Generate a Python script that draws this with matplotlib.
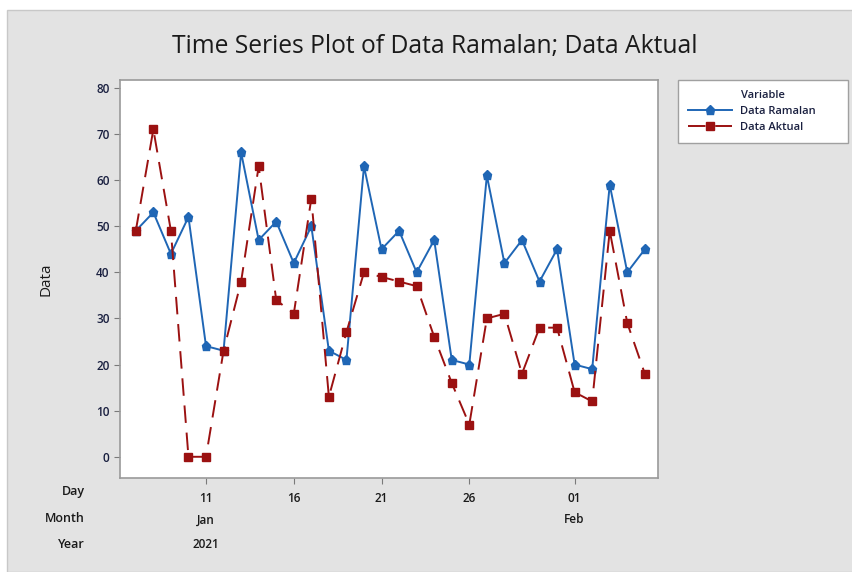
import pandas as pd
import matplotlib.pyplot as plt
from matplotlib.patches import Rectangle

# Daily values, 7 Jan - 5 Feb 2021
dates = pd.date_range('2021-01-07', '2021-02-05', freq='D')
data_ramalan = [49, 53, 44, 52, 24, 23, 66, 47, 51, 42, 50, 23, 21, 63, 45,
                49, 40, 47, 21, 20, 61, 42, 47, 38, 45, 20, 19, 59, 40, 45]
data_aktual = [49, 71, 49, 0, 0, 23, 38, 63, 34, 31, 56, 13, 27, 40, 39,
               38, 37, 26, 16, 7, 30, 31, 18, 28, 28, 14, 12, 49, 29, 18]
day_ticks = ['2021-01-11', '2021-01-16', '2021-01-21', '2021-01-26', '2021-02-01']
day_labels = ['11', '16', '21', '26', '01']
month_labels = {'2021-01-11': 'Jan', '2021-02-01': 'Feb'}
year_labels = {'2021-01-11': '2021'}

plt.rcParams['font.family'] = ['Open Sans', 'DejaVu Sans']

fig = plt.figure(figsize=(8.52, 5.72), dpi=100)
fig.patch.set_facecolor('white')
# grey panel behind the graph
fig.patches.append(Rectangle((7 / 852, 0), 1, 1 - 10 / 572, transform=fig.transFigure,
                             facecolor='#e3e3e3', edgecolor='#c8c8c8', lw=1, zorder=-10))

ax = fig.add_axes([120 / 852, 1 - 478 / 572, 538 / 852, 398 / 572])
ax.set_facecolor('white')

blue = '#1f66b5'
red = '#9b1111'
x = list(range(len(dates)))
ax.plot(x, data_ramalan, color=blue, lw=1.4, marker='p', ms=6.5, label='Data Ramalan')
ax.plot(x, data_aktual, color=red, lw=1.4, marker='s', ms=6,
        linestyle=(0, (9, 5)), label='Data Aktual')

ax.set_xlim(-0.9, len(dates) - 1 + 0.75)
ax.set_ylim(-4.6, 81.7)
ax.set_yticks(range(0, 81, 10))
ax.set_yticklabels([str(v) for v in range(0, 81, 10)], fontweight='semibold')
ax.tick_params(axis='y', colors='#7a7a7a', labelcolor='#1a2040', labelsize=8.5, length=4)

tick_pos = [list(dates).index(pd.Timestamp(d)) for d in day_ticks]
ax.set_xticks(tick_pos)
ax.set_xticklabels(day_labels, fontweight='semibold')
ax.tick_params(axis='x', colors='#7a7a7a', labelcolor='#1a1a1a', labelsize=8.5,
               length=4, pad=6)
for s in ax.spines.values():
    s.set_color('#9a9a9a')
    s.set_linewidth(1.2)

# extra rows under the day labels
trans = ax.get_xaxis_transform()
for d, lab in month_labels.items():
    ax.text(list(dates).index(pd.Timestamp(d)), -0.105, lab, transform=trans,
            ha='center', va='center', fontsize=8.5, color='#1a1a1a', fontweight='semibold')
for d, lab in year_labels.items():
    ax.text(list(dates).index(pd.Timestamp(d)), -0.168, lab, transform=trans,
            ha='center', va='center', fontsize=8.5, color='#1a1a1a', fontweight='semibold')
for lab, yy in [('Day', 492), ('Month', 519), ('Year', 544)]:
    fig.text(85 / 852, 1 - yy / 572, lab, ha='right', va='center',
             fontsize=9, color='#1a1a1a', fontweight='semibold')

ax.set_ylabel('Data', fontsize=11, color='#1a1a1a', labelpad=31)
fig.text(435 / 852, 1 - 47 / 572, 'Time Series Plot of Data Ramalan; Data Aktual',
         ha='center', va='center', fontsize=17.7, color='#1a1a1a')

leg = ax.legend(title='Variable', loc='upper left',
                bbox_to_anchor=(678 / 852, 1 - 148 / 572, 170 / 852, 68 / 572),
                mode='expand', bbox_transform=fig.transFigure, fancybox=False,
                framealpha=1, edgecolor='#a0a0a0',
                prop={'size': 8, 'weight': 'semibold'},
                title_fontproperties={'size': 8, 'weight': 'semibold'},
                handlelength=4.0, handletextpad=0.7, borderpad=0.9, labelspacing=0.45,
                borderaxespad=0)
leg.get_frame().set_linewidth(1.0)
for t in leg.get_texts():
    t.set_color('#1a2040')
leg.get_title().set_color('#1a2040')

fig.savefig('out.png', dpi=100)
